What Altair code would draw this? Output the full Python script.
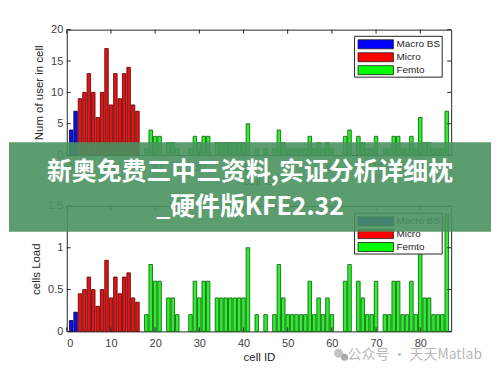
import altair as alt
import pandas as pd

# ---------------- data ----------------
cell_types = ["Macro BS", "Micro", "Femto"]
type_colors = ["#0c0ce8", "#e01414", "#2cf02c"]
edge_colors = ["#00004a", "#5a0000", "#0a5a0a"]
legend_patch_colors = ["#0000ff", "#ff0000", "#00ff00"]

macro_users = [4, 7]
micro_users = [9, 10, 13, 10, 6, 10, 17, 8, 13, 9, 13, 14, 8, 7]
femto_users = [0, 1, 4, 3, 3, 0, 2, 2, 1, 0,
               0, 1, 3, 2, 3, 3, 0, 2, 2, 2,
               2, 2, 2, 2, 5, 0, 1, 0, 1, 0,
               1, 4, 2, 1, 1, 1, 1, 1, 3, 1,
               2, 1, 2, 1, 0, 0, 3, 4, 0, 3,
               2, 1, 1, 3, 0, 1, 1, 3, 3, 1,
               1, 3, 1, 6, 2, 2, 1, 1, 1, 7]

macro_load = [0.13, 0.23]
micro_load = [0.45, 0.5, 0.65, 0.5, 0.3, 0.5, 0.85, 0.4, 0.65, 0.45, 0.65, 0.7, 0.4, 0.35]
femto_load = [0, 0.2, 0.8, 0.6, 0.6, 0, 0.4, 0.4, 0.2, 0,
              0, 0.2, 0.6, 0.4, 0.6, 0.6, 0, 0.4, 0.4, 0.4,
              0.4, 0.4, 0.4, 0.4, 1.0, 0, 0.2, 0, 0.2, 0,
              0.2, 0.8, 0.4, 0.2, 0.2, 0.2, 0.2, 0.2, 0.6, 0.2,
              0.4, 0.2, 0.4, 0.2, 0, 0, 0.6, 0.8, 0, 0.6,
              0.4, 0.2, 0.2, 0.6, 0, 0.2, 0.2, 0.6, 0.6, 0.2,
              0.2, 0.6, 0.2, 1.2, 0.4, 0.4, 0.2, 0.2, 0.2, 1.4]

x_ticks = [0, 10, 20, 30, 40, 50, 60, 70, 80]
users_ticks = [0, 5, 10, 15, 20]
load_ticks = [0, 0.5, 1, 1.5]

title_lines = ["新奥免费三中三资料,实证分析详细枕", "_硬件版KFE2.32"]
watermark = "公众号 · 天天Matlab"

# ---------------- layout / style ----------------
W, H = 386, 126
FRAME = "#262626"
LABEL = "#404040"
FONT = "Liberation Sans"


def make_frame(values_by_type):
    rows = []
    cell = 1
    for t, vals in zip(cell_types, values_by_type):
        for v in vals:
            rows.append({"cell": cell, "type": t, "v": v})
            cell += 1
    return pd.DataFrame(rows)


xs = alt.Scale(domain=[0, 87], nice=False, zero=False)
x_axis = alt.Axis(values=x_ticks, title="cell ID", ticks=False, domain=False,
                  grid=False, labelPadding=6, titlePadding=3)


def panel(df, ymax, yticks, ytitle, legend_y, extra=None):
    ys = alt.Scale(domain=[0, ymax], nice=False)
    y_axis = alt.Axis(values=yticks, title=ytitle, ticks=False, domain=False,
                      grid=False, labelPadding=4, titlePadding=6, format="~g")
    bars = (
        alt.Chart(df)
        .transform_filter("datum.v > 0")
        .transform_calculate(x0="datum.cell - 0.4", x1="datum.cell + 0.4")
        .mark_bar(strokeWidth=0.8)
        .encode(
            x=alt.X("x0:Q", scale=xs, axis=x_axis),
            x2="x1:Q",
            y=alt.Y("v:Q", scale=ys, axis=y_axis),
            y2=alt.datum(0),
            fill=alt.Fill("type:N", scale=alt.Scale(domain=cell_types, range=type_colors), legend=None),
            stroke=alt.Stroke("type:N", scale=alt.Scale(domain=cell_types, range=edge_colors), legend=None),
        )
    )
    xt = pd.DataFrame({"t": x_ticks})
    yt = pd.DataFrame({"t": yticks})
    tick_x_b = alt.Chart(xt).mark_rule(color=FRAME, strokeWidth=1).encode(
        x=alt.X("t:Q", scale=xs, axis=x_axis), y=alt.value(H), y2=alt.value(H - 4))
    tick_x_t = alt.Chart(xt).mark_rule(color=FRAME, strokeWidth=1).encode(
        x=alt.X("t:Q", scale=xs, axis=x_axis), y=alt.value(0), y2=alt.value(4))
    tick_y_l = alt.Chart(yt).mark_rule(color=FRAME, strokeWidth=1).encode(
        y=alt.Y("t:Q", scale=ys, axis=y_axis), x=alt.value(0), x2=alt.value(4))
    tick_y_r = alt.Chart(yt).mark_rule(color=FRAME, strokeWidth=1).encode(
        y=alt.Y("t:Q", scale=ys, axis=y_axis), x=alt.value(W), x2=alt.value(W - 4))

    one = pd.DataFrame({"a": [0]})
    lx0, lx1 = 289, 377
    box = alt.Chart(one).mark_rect(fill="white", stroke=FRAME, strokeWidth=1).encode(
        x=alt.value(lx0), x2=alt.value(lx1), y=alt.value(legend_y), y2=alt.value(legend_y + 41))
    layers = [bars, tick_x_b, tick_x_t, tick_y_l, tick_y_r, box]
    for i, (t, c) in enumerate(zip(cell_types, legend_patch_colors)):
        cy = legend_y + 8 + 13 * i
        d = pd.DataFrame({"type": [t]})
        layers.append(
            alt.Chart(d).mark_rect(color=c, stroke="#1a1a1a", strokeWidth=0.8).encode(
                x=alt.value(lx0 + 3.5), x2=alt.value(lx0 + 39),
                y=alt.value(cy - 4.5), y2=alt.value(cy + 4.5)))
        layers.append(
            alt.Chart(d).mark_text(align="left", baseline="middle", fontSize=10,
                                   font=FONT, color=FRAME).encode(
                x=alt.value(lx0 + 42), y=alt.value(cy), text="type:N"))
    if extra:
        layers.extend(extra)
    return alt.layer(*layers).properties(width=W, height=H)


users_df = make_frame([macro_users, micro_users, femto_users])
load_df = make_frame([macro_load, micro_load, femto_load])

# banner overlay and watermark (drawn in the lower panel, extending upward)
one = pd.DataFrame({"a": [0]})
banner = alt.Chart(one).mark_rect(color="#4a9260", opacity=0.9).encode(
    x=alt.value(-58), x2=alt.value(426), y=alt.value(-64), y2=alt.value(26))
line1 = alt.Chart(pd.DataFrame({"s": [title_lines[0]]})).mark_text(
    color="white", font="Noto Sans CJK SC", fontWeight="bold", fontSize=25,
    align="center", baseline="middle").encode(x=alt.value(184), y=alt.value(-34), text="s:N")
line2 = alt.Chart(pd.DataFrame({"s": [title_lines[1]]})).mark_text(
    color="white", font="Noto Sans CJK SC", fontWeight="bold", fontSize=25,
    align="center", baseline="middle").encode(x=alt.value(184), y=alt.value(1), text="s:N")
wm = alt.Chart(pd.DataFrame({"s": [watermark]})).mark_text(
    color="#b8b8b8", font="Noto Sans CJK SC", fontSize=14, align="right",
    baseline="middle").encode(x=alt.value(417), y=alt.value(150), text="s:N")
icon1 = alt.Chart(one).mark_circle(color="#c4c4c4", opacity=1, size=85).encode(
    x=alt.value(273), y=alt.value(148))
icon2 = alt.Chart(one).mark_circle(color="#aaaaaa", opacity=1, size=50).encode(
    x=alt.value(279), y=alt.value(152))

top = panel(users_df, 20, users_ticks, "Num of user in cell", 6.7)
bottom = panel(load_df, 1.5, load_ticks, "cells Load", 7.3,
               extra=[banner, line1, line2, icon1, icon2, wm])

chart = (
    alt.vconcat(top, bottom, spacing=51, bounds="flush")
    .properties(padding={"left": 0, "top": 14, "right": 0, "bottom": 0})
    .configure_view(stroke=FRAME, strokeWidth=1)
    .configure_axis(labelFont=FONT, titleFont=FONT, labelFontSize=11,
                    titleFontSize=11.5, labelColor=LABEL, titleColor=FRAME,
                    titleFontWeight="normal")
)

chart.save("out.html", embed_options={"renderer": "svg", "actions": False})
